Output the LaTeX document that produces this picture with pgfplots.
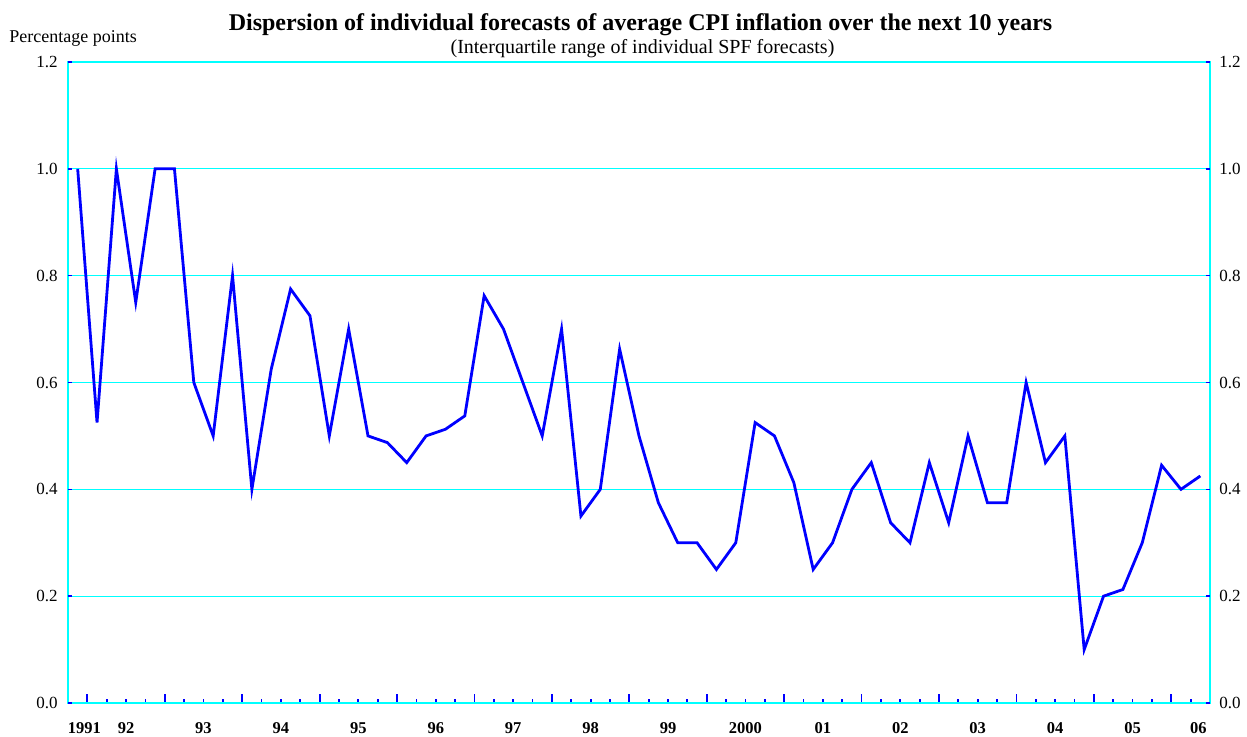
\documentclass[border=0pt]{standalone}
\usepackage{fontspec}
\setmainfont{Liberation Serif}
\usepackage{pgfplots}
\usepackage{pgfplotstable}
\pgfplotsset{compat=1.18}
\definecolor{gridc}{RGB}{0,255,255}
\definecolor{lineb}{RGB}{0,0,255}
\pgfplotstableread{
x y
0 1.0
1 0.525
2 1.0
3 0.75
4 1.0
5 1.0
6 0.6
7 0.5
8 0.8
9 0.4
10 0.625
11 0.775
12 0.725
13 0.5
14 0.7
15 0.5
16 0.4875
17 0.45
18 0.5
19 0.5125
20 0.5375
21 0.7625
22 0.7
23 0.6
24 0.5
25 0.7
26 0.35
27 0.4
28 0.6625
29 0.5
30 0.375
31 0.3
32 0.3
33 0.25
34 0.3
35 0.525
36 0.5
37 0.4125
38 0.25
39 0.3
40 0.4
41 0.45
42 0.3375
43 0.3
44 0.45
45 0.3375
46 0.5
47 0.375
48 0.375
49 0.6
50 0.45
51 0.5
52 0.1
53 0.2
54 0.2125
55 0.3
56 0.445
57 0.4
58 0.425
}\spfdata
\begin{document}
\begin{tikzpicture}
\useasboundingbox (-34pt,-16.5pt) rectangle (589.5pt,351.5pt);
% main axis: frame, grid, x ticks, left labels, data
\begin{axis}[
  scale only axis, width=571pt, height=320.5pt,
  xmin=-0.5, xmax=58.5, ymin=0, ymax=1.2,
  axis line style={gridc, line width=0.9pt},
  ymajorgrids, grid style={gridc, line width=0.6pt},
  ytick={0,0.2,0.4,0.6,0.8,1.0,1.2},
  ytick style={draw=none},
  yticklabel pos=left,
  yticklabel style={anchor=east, inner sep=0pt, xshift=-5pt, font=\fontsize{8.5}{10}\selectfont},
  /pgf/number format/fixed, /pgf/number format/fixed zerofill,
  /pgf/number format/precision=1, /pgf/number format/assume math mode=true,
  xtick={0.5,4.5,...,56.5},
  xticklabels={},
  minor xtick={0.5,1.5,...,57.5},
  xtick pos=bottom,
  tick align=inside,
  major tick length=4.4pt, minor tick length=2.2pt,
  xtick style={lineb, line width=0.9pt},
  minor x tick style={lineb, line width=0.9pt},
]
\addplot[lineb, line width=1.4pt, line join=miter, mark=none] table[x=x,y=y] {\spfdata};
\end{axis}
% overlay axis: right labels, y ticks, year labels
\begin{axis}[
  scale only axis, width=571pt, height=320.5pt,
  xmin=-0.5, xmax=58.5, ymin=0, ymax=1.2,
  axis line style={draw=none},
  ytick={0,0.2,0.4,0.6,0.8,1.0,1.2},
  ytick pos=both,
  yticklabel pos=right,
  ytick style={lineb, line width=0.8pt},
  major tick length=2pt,
  tick align=inside,
  yticklabel style={anchor=west, inner sep=0pt, xshift=4.5pt, font=\fontsize{8.5}{10}\selectfont},
  /pgf/number format/fixed, /pgf/number format/fixed zerofill,
  /pgf/number format/precision=1, /pgf/number format/assume math mode=true,
  xtick={0.35,2.5,6.5,10.5,14.5,18.5,22.5,26.5,30.5,34.5,38.5,42.5,46.5,50.5,54.5,57.9},
  xticklabels={1991,92,93,94,95,96,97,98,99,2000,01,02,03,04,05,06},
  xtick pos=bottom,
  xtick style={draw=none},
  xticklabel style={anchor=base, inner sep=0pt, yshift=-15pt, font=\bfseries\fontsize{8.25}{10}\selectfont},
]
\addplot[draw=none, forget plot] coordinates {(0,0)};
\end{axis}
\node[anchor=base, inner sep=0pt, font=\bfseries\fontsize{12}{14}\selectfont] at (286.25pt,336.5pt) {Dispersion of individual forecasts of average CPI inflation over the next 10 years};
\node[anchor=base, inner sep=0pt, font=\fontsize{10}{12}\selectfont] at (287.25pt,325pt) {(Interquartile range of individual SPF forecasts)};
\node[anchor=base west, inner sep=0pt, font=\fontsize{9}{11}\selectfont] at (-29.5pt,330.5pt) {Percentage points};
\end{tikzpicture}
\end{document}
